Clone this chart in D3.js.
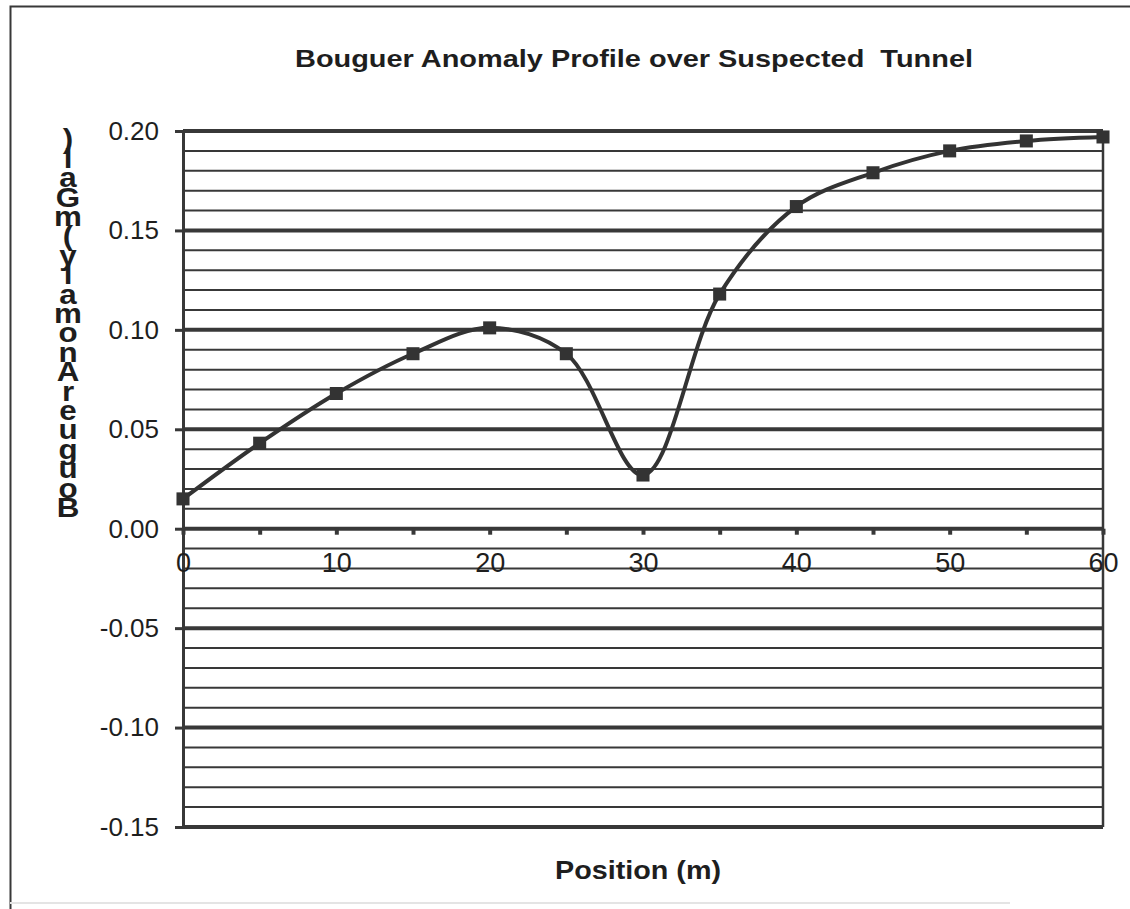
<!DOCTYPE html>
<html>
<head>
<meta charset="utf-8">
<script src="https://cdn.jsdelivr.net/npm/d3@7"></script>
<style>
    body { margin: 0; background: #fff; }
    svg { display: block; font-family: 'Liberation Sans', Arial, sans-serif; }
</style>
</head>
<body>
<svg></svg>
<script>
// survey stations along the profile (m) and the anomaly read at each (mGal)
const positions = [0, 5, 10, 15, 20, 25, 30, 35, 40, 45, 50, 55, 60]
const anomaly = [0.015, 0.043, 0.068, 0.088, 0.101, 0.088, 0.027, 0.118, 0.162, 0.179, 0.190, 0.195, 0.197]

const xTickLabels = [0, 10, 20, 30, 40, 50, 60]
const yTickLabels = [-0.15, -0.10, -0.05, 0.00, 0.05, 0.10, 0.15, 0.20]
// hundredths from -0.15 up to 0.20 for the gridlines
const gridHundredths = d3.range(-15, 21)

const title = 'Bouguer Anomaly Profile over Suspected  Tunnel'
const xTitle = 'Position (m)'
const yTitle = 'Bouguer Anomaly (mGal)'

const width = 1130
const height = 909
const ink = '#383838'

const svg = d3.select('svg').attr('width', width).attr('height', height)

const x = d3.scaleLinear().domain([0, 60]).range([183, 1103])
const y = d3.scaleLinear().domain([-0.15, 0.20]).range([827, 131])

// outer frame of the chart object (scanned: left and top are the clear ones)
svg.append('path')
    .attr('d', 'M10.5,909 L10.5,6.5 L1130,6.5')
    .attr('fill', 'none')
    .attr('stroke', ink)
    .attr('stroke-width', 2)
svg.append('line')
    .attr('x1', 10).attr('x2', 1010).attr('y1', 903).attr('y2', 903)
    .attr('stroke', '#e4e4e4').attr('stroke-width', 2)

// title
svg.append('text')
    .attr('x', 634).attr('y', 67)
    .attr('text-anchor', 'middle')
    .attr('font-size', 24).attr('font-weight', 'bold')
    .attr('fill', '#1e1e1e')
    .attr('textLength', 678).attr('lengthAdjust', 'spacingAndGlyphs')
    .style('white-space', 'pre')
    .text(title)

// gridlines: thin every 0.01, heavy every 0.05
const gridGroup = svg.append('g').attr('class', 'grid')
gridGroup.selectAll('line')
    .data(gridHundredths)
    .join('line')
    .attr('x1', x(0)).attr('x2', x(60))
    .attr('y1', d => y(d / 100)).attr('y2', d => y(d / 100))
    .attr('stroke', ink)
    .attr('stroke-width', d => d % 5 === 0 ? 4 : 2)

// right edge of the plot
svg.append('line')
    .attr('x1', x(60)).attr('x2', x(60))
    .attr('y1', y(0.20)).attr('y2', y(-0.15))
    .attr('stroke', ink).attr('stroke-width', 2.5)

// y axis with its labels
const yAxis = d3.axisLeft(y)
    .tickValues(yTickLabels)
    .tickFormat(d => d.toFixed(2))
    .tickSize(8)
    .tickPadding(16)

svg.append('g')
    .attr('transform', `translate(${x(0)},0)`)
    .call(yAxis)
    .call(g => g.select('.domain')
        .attr('stroke', ink).attr('stroke-width', 3))
    .call(g => g.selectAll('.tick line').attr('stroke', ink).attr('stroke-width', 3))
    .call(g => g.selectAll('.tick text')
        .attr('font-size', 26).attr('fill', '#1e1e1e')
        .attr('font-family', "'Liberation Sans', Arial, sans-serif"))

// x axis runs along zero
const xAxis = d3.axisBottom(x)
    .tickValues(positions)
    .tickFormat(d => xTickLabels.includes(d) ? d : '')
    .tickSizeInner(6)
    .tickSizeOuter(0)
    .tickPadding(18)

svg.append('g')
    .attr('transform', `translate(0,${y(0)})`)
    .call(xAxis)
    .call(g => g.select('.domain').remove())
    .call(g => g.selectAll('.tick line').attr('stroke', ink).attr('stroke-width', 4))
    .call(g => g.selectAll('.tick text')
        .attr('font-size', 27).attr('fill', '#1e1e1e')
        .attr('font-family', "'Liberation Sans', Arial, sans-serif"))

// y title: upright letters stacked from the bottom up, one text element
// with a position for every letter
const yLetters = yTitle.replace(/ /g, '')
const letterStep = 19.4
svg.append('text')
    .attr('class', 'y-title')
    .attr('transform', 'translate(68,0) scale(1.12,1)')
    .attr('font-size', 28).attr('font-weight', 'bold')
    .attr('fill', '#1e1e1e')
    .attr('text-anchor', 'middle')
    .attr('x', yLetters.split('').map(() => 0).join(' '))
    .attr('y', yLetters.split('').map((c, i) => 517 - i * letterStep).join(' '))
    .text(yLetters)

// the profile itself, smoothed like the spreadsheet line
const line = d3.line()
    .x((d, i) => x(positions[i]))
    .y(d => y(d))
    .curve(d3.curveCatmullRom.alpha(0.5))

svg.append('path')
    .datum(anomaly)
    .attr('d', line)
    .attr('fill', 'none')
    .attr('stroke', '#333')
    .attr('stroke-width', 4)

svg.append('g')
    .selectAll('path')
    .data(anomaly)
    .join('path')
    .attr('transform', (d, i) => `translate(${x(positions[i])},${y(d)})`)
    .attr('d', d3.symbol(d3.symbolSquare, 170))
    .attr('fill', '#333')

// x title
svg.append('text')
    .attr('x', 638).attr('y', 879)
    .attr('text-anchor', 'middle')
    .attr('font-size', 26).attr('font-weight', 'bold')
    .attr('fill', '#1e1e1e')
    .attr('textLength', 166).attr('lengthAdjust', 'spacingAndGlyphs')
    .text(xTitle)
</script>
</body>
</html>
